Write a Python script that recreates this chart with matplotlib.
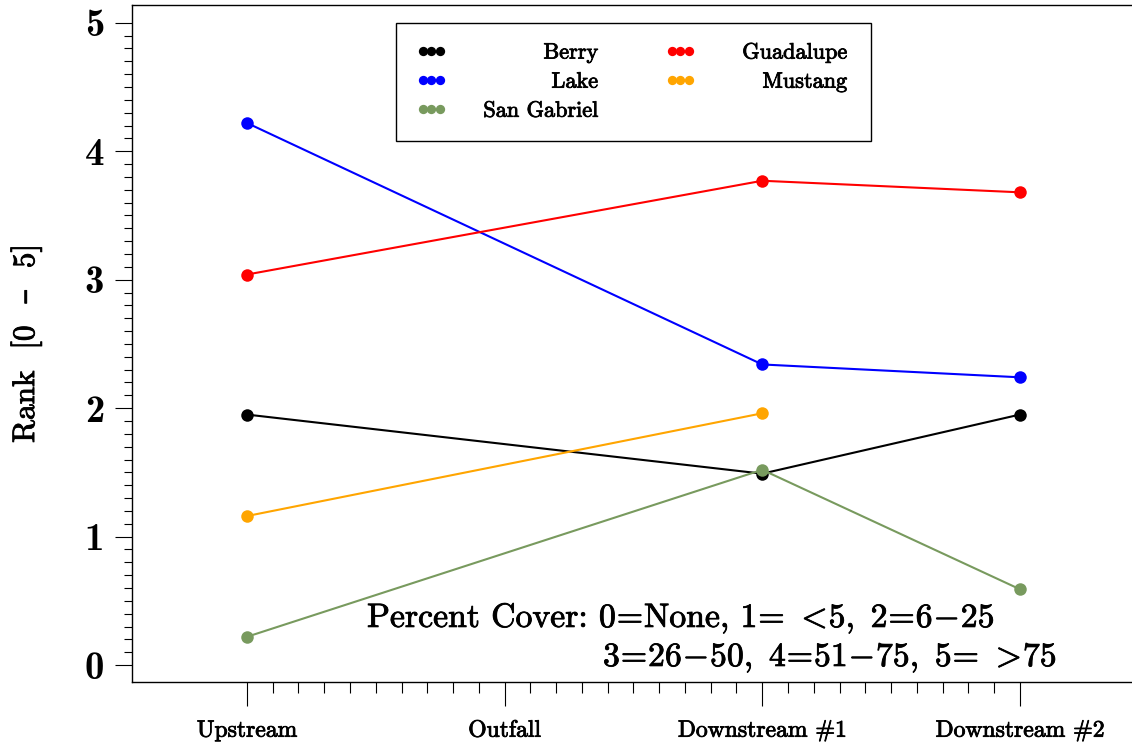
import numpy as np
import matplotlib
matplotlib.use('Agg')
import matplotlib.pyplot as plt
import matplotlib.patheffects as pe
from matplotlib.lines import Line2D
from matplotlib.ticker import FixedLocator

# ---- data ----
sites = ['Upstream', 'Outfall', 'Downstream #1', 'Downstream #2']
yticks = [0, 1, 2, 3, 4, 5]
series_names = ['Berry', 'Lake', 'San Gabriel', 'Guadalupe', 'Mustang']
berry = [1.95, np.nan, 1.49, 1.95]
lake = [4.22, np.nan, 2.34, 2.24]
san_gabriel = [0.22, np.nan, 1.52, 0.59]
guadalupe = [3.04, np.nan, 3.77, 3.68]
mustang = [1.16, np.nan, 1.96, np.nan]
series_values = [berry, lake, san_gabriel, guadalupe, mustang]
series_colors = ['#000000', '#0000ff', '#789a5e', '#ff0000', '#ffa500']
ylabel_text = 'Rank  [0  \u2013  5]'
note_line1 = r'Percent Cover: $0\!=\!$None, $1\!=\,<\!5,\ 2\!=\!6\!-\!25$'
note_line2 = r'$3\!=\!26\!-\!50,\ 4\!=\!51\!-\!75,\ 5\!=\,>\!75$'

plt.rcParams['mathtext.fontset'] = 'cm'
plt.rcParams['axes.unicode_minus'] = False
plt.rcParams['font.family'] = ['cmr10', 'DejaVu Serif']

heavy = [pe.withStroke(linewidth=0.6, foreground='black')]

fig = plt.figure(figsize=(11.32, 7.48), dpi=100)
ax = fig.add_axes([0.1166, 0.0882, 0.8834, 0.9051])

x = np.arange(len(sites))
for name, vals, col in zip(series_names, series_values, series_colors):
    v = np.array(vals, dtype=float)
    m = ~np.isnan(v)
    ax.plot(x[m], v[m], '-', color=col, lw=1.5, marker='o', ms=9,
            markeredgewidth=0, label=name)

ax.set_xlim(-0.446, 3.435)
ax.set_ylim(-0.132, 5.138)

ax.spines['right'].set_visible(False)
for s in ['left', 'bottom', 'top']:
    ax.spines[s].set_linewidth(1.0)

ax.set_xticks(x)
ax.set_xticklabels(sites, fontsize=17, family='cmr10')
xminor = [v for v in np.round(np.arange(0, 3.0001, 0.1), 3) if abs(v - round(v)) > 1e-6]
ax.xaxis.set_minor_locator(FixedLocator(xminor))
ax.tick_params(axis='x', which='major', length=17, width=0.8, pad=10, direction='out')
ax.tick_params(axis='x', which='minor', length=8, width=0.8, direction='out')
for t in ax.get_xticklabels():
    t.set_path_effects(heavy)

ax.set_yticks(yticks)
ax.set_yticklabels([str(t) for t in yticks], fontsize=28, family='cmb10')
yminor = [v for v in np.round(np.arange(0, 5.0001, 0.1), 3) if abs(v - round(v)) > 1e-6]
ax.yaxis.set_minor_locator(FixedLocator(yminor))
ax.tick_params(axis='y', which='major', length=12, width=0.8, pad=8, direction='out')
ax.tick_params(axis='y', which='minor', length=6, width=0.8, direction='out')

ylab = ax.set_ylabel(ylabel_text, fontsize=22.5, family=['cmr10', 'DejaVu Serif'])
ylab.set_path_effects(heavy)
ax.yaxis.set_label_coords(-0.09, 0.5)

t1 = ax.text(0.235, 0.0812, note_line1, transform=ax.transAxes, fontsize=24.3,
             ha='left', va='baseline')
t2 = ax.text(0.471, 0.0236, note_line2, transform=ax.transAxes, fontsize=24.3,
             ha='left', va='baseline')
t1.set_path_effects(heavy)
t2.set_path_effects(heavy)

# ---- legend with right-aligned labels ----
F = 16
pxpt = fig.dpi / 72.0
handles = [Line2D([], [], ls='none', marker='o', ms=6.7, markeredgewidth=0, color=c)
           for c in series_colors]
HL = 1.35
BP = 0.9


def build(p_em, cs_em):
    return ax.legend(handles, series_names, ncol=2, numpoints=3, handlelength=HL,
                     handletextpad=p_em, columnspacing=cs_em, borderpad=BP,
                     labelspacing=0.43, loc='upper left',
                     bbox_to_anchor=(0.2645, 0.9735), borderaxespad=0,
                     frameon=True, fancybox=False, edgecolor='black',
                     framealpha=1, prop={'family': 'cmr10', 'size': F})


leg = build(0.5, 2.0)
fig.canvas.draw()
r = fig.canvas.get_renderer()
widths = [t.get_window_extent(r).width for t in leg.get_texts()]
W1 = max(widths[:3])
W2 = max(widths[3:])
fpx = F * pxpt
H = HL * fpx
bp = BP * fpx
p = 206 - bp - H - W2
cs = 249 - H - p - W1
leg = build(p / fpx, cs / fpx)
fig.canvas.draw()
T = 181.5
for t, w in zip(leg.get_texts(), widths):
    t.set_position((T - H - p - w, 0))
    t.set_path_effects(heavy)

fig.savefig('out.png', dpi=100)
